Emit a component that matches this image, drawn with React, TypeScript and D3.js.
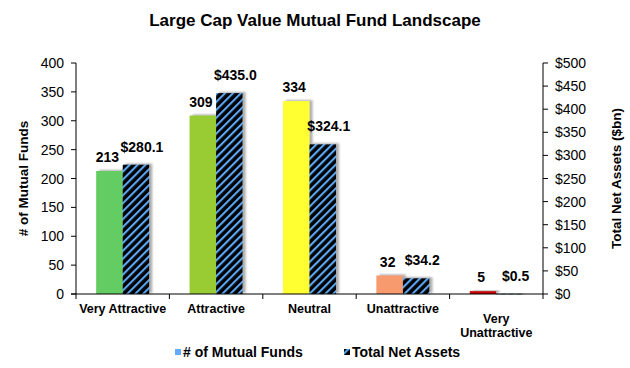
import React from "react";
import * as d3 from "d3";

const categories = ["Very Attractive", "Attractive", "Neutral", "Unattractive", "Very Unattractive"];
const fundCounts = [213, 309, 334, 32, 5];
const netAssets = [280.1, 435.0, 324.1, 34.2, 0.5];
const fundTicks = [0, 50, 100, 150, 200, 250, 300, 350, 400];
const assetTicks = [0, 50, 100, 150, 200, 250, 300, 350, 400, 450, 500];
const barColors = ["#63CC63", "#99CC33", "#FFFF33", "#F79A6E", "#CC0000"];

const W = 630;
const H = 368;
const FONT = "Arial, 'Liberation Sans', sans-serif";

// multi-word labels that wrap in the original
const catLines = (c: string) => (c === "Very Unattractive" ? ["Very", "Unattractive"] : [c]);

const App = () => {
  const left = 76, right = 543, top = 63, bottom = 294;

  const x = d3.scaleBand<string>().domain(categories).range([left, right]).padding(0);
  const inner = d3.scaleBand<string>().domain(["funds", "assets"]).range([0, x.bandwidth()])
    .paddingInner(0).paddingOuter(0.76);
  const yL = d3.scaleLinear().domain([0, 400]).range([bottom, top]);
  const yR = d3.scaleLinear().domain([0, 500]).range([bottom, top]);
  const bw = inner.bandwidth();

  const boundaries = [...categories.map(c => x(c)!), right];

  return (
    <svg width={W} height={H} style={{ position: "absolute", left: 0, top: 0 }} fontFamily={FONT}>
      <defs>
        <pattern id="hatch" patternUnits="userSpaceOnUse" width="5.6" height="5.6" patternTransform="rotate(45)">
          <rect width="5.6" height="5.6" fill="#000" />
          <rect width="2.1" height="5.6" fill="#5BA8F5" />
        </pattern>
        <filter id="shadow" x="-30%" y="-10%" width="160%" height="120%">
          <feDropShadow dx="3" dy="-1" stdDeviation="1.3" floodColor="#777" floodOpacity="0.6" />
        </filter>
      </defs>
      <rect width={W} height={H} fill="#fff" />

      <text x={315} y={26} textAnchor="middle" fontWeight="bold" fontSize={17}>
        Large Cap Value Mutual Fund Landscape
      </text>

      {/* bars */}
      {categories.map((c, i) => {
        const x0 = x(c)!;
        const fx = x0 + inner("funds")!;
        const ax = x0 + inner("assets")!;
        return (
          <g key={c}>
            <rect x={fx} y={yL(fundCounts[i])} width={bw} height={bottom - yL(fundCounts[i])}
              fill={barColors[i]} filter="url(#shadow)" />
            <rect x={ax} y={yR(netAssets[i])} width={bw} height={Math.max(bottom - yR(netAssets[i]), 0.6)}
              fill="url(#hatch)" filter="url(#shadow)" />
            <text x={fx + bw / 2 - 2} y={yL(fundCounts[i]) - 9} textAnchor="middle" fontWeight="bold" fontSize={14}>
              {fundCounts[i]}
            </text>
            <text x={ax + bw / 2 + 6} y={yR(netAssets[i]) - 13} textAnchor="middle" fontWeight="bold" fontSize={14}>
              {"$" + netAssets[i].toFixed(1)}
            </text>
          </g>
        );
      })}

      {/* left axis */}
      <line x1={left} x2={left} y1={top} y2={bottom} stroke="#000" />
      {fundTicks.map(t => (
        <g key={"l" + t}>
          <line x1={left - 5} x2={left} y1={yL(t)} y2={yL(t)} stroke="#000" />
          <text x={left - 12} y={yL(t) + 5} textAnchor="end" fontSize={14}>{t}</text>
        </g>
      ))}

      {/* right axis */}
      <line x1={right} x2={right} y1={top} y2={bottom} stroke="#000" />
      {assetTicks.map(t => (
        <g key={"r" + t}>
          <line x1={right} x2={right + 5} y1={yR(t)} y2={yR(t)} stroke="#000" />
          <text x={right + 12} y={yR(t) + 5} textAnchor="start" fontSize={14}>{"$" + t}</text>
        </g>
      ))}

      {/* bottom axis */}
      <line x1={left - 5} x2={right} y1={bottom} y2={bottom} stroke="#000" />
      {boundaries.map((b, i) => (
        <line key={"b" + i} x1={b} x2={b} y1={bottom} y2={bottom + 5} stroke="#000" />
      ))}
      {categories.map(c => {
        const lines = catLines(c);
        const y0 = lines.length > 1 ? 323 : 313;
        return (
          <text key={"c" + c} x={x(c)! + x.bandwidth() / 2} y={y0} textAnchor="middle" fontWeight="bold" fontSize={12.5}>
            {lines.map((l, j) => (
              <tspan key={j} x={x(c)! + x.bandwidth() / 2} y={y0 + j * 14}>{l}</tspan>
            ))}
          </text>
        );
      })}

      {/* axis titles */}
      <text transform={`translate(28,${(top + bottom) / 2}) rotate(-90)`} textAnchor="middle" fontWeight="bold" fontSize={13.5}>
        # of Mutual Funds
      </text>
      <text transform={`translate(621,${(top + bottom) / 2}) rotate(-90)`} textAnchor="middle" fontWeight="bold" fontSize={13.5}>
        Total Net Assets ($bn)
      </text>

      {/* legend */}
      <rect x={175} y={349} width={6} height={6} fill="#66AAFF" />
      <text x={183} y={357} fontWeight="bold" fontSize={14}># of Mutual Funds</text>
      <rect x={344} y={349} width={6} height={6} fill="#000" />
      <path d="M344,355 L344,352 L347,349 L350,349 Z" fill="#4FA0F0" />
      <text x={352} y={357} fontWeight="bold" fontSize={14}>Total Net Assets</text>
    </svg>
  );
};

export default App;
